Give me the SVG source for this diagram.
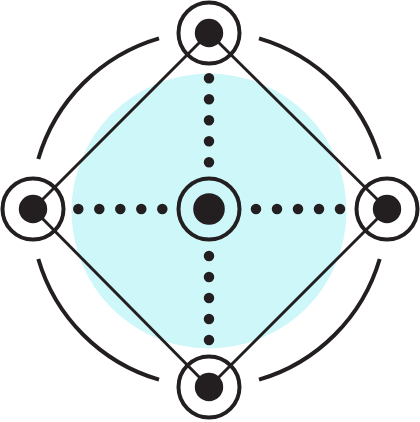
<svg xmlns="http://www.w3.org/2000/svg" width="420" height="422" viewBox="0 0 420 422">
<style>
.ring{fill:none;stroke:#231f20;stroke-width:4}
.dot{fill:#231f20}
.arc{fill:none;stroke:#231f20;stroke-width:4}
.edge{stroke:#231f20;stroke-width:3;fill:none}
.dots{stroke:#231f20;stroke-width:10.5;stroke-linecap:round;stroke-dasharray:0 21;fill:none}
</style>
<rect width="420" height="422" fill="#ffffff"/>
<circle id="backdrop" cx="209" cy="211" r="137.5" fill="#cdf7f9"/>
<g id="outer-arcs">
<path class="arc" d="M159 38.3 A178 178 0 0 0 38.3 159"/>
<path class="arc" d="M259 38.3 A178 178 0 0 1 379.7 159"/>
<path class="arc" d="M38.3 259 A178 178 0 0 0 159 379.7"/>
<path class="arc" d="M379.7 259 A178 178 0 0 1 259 379.7"/>
</g>
<g id="connectors">
<line class="edge" x1="209" y1="33" x2="33" y2="209"/>
<line class="edge" x1="209" y1="33" x2="387" y2="209"/>
<line class="edge" x1="33" y1="209" x2="209" y2="387"/>
<line class="edge" x1="387" y1="209" x2="209" y2="387"/>
<line class="dots" x1="209" y1="78.3" x2="209" y2="162.5"/>
<line class="dots" x1="209" y1="256" x2="209" y2="340.2"/>
<line class="dots" x1="78.3" y1="209" x2="162.5" y2="209"/>
<line class="dots" x1="256" y1="209" x2="340.2" y2="209"/>
</g>
<g id="node-center">
<circle class="ring" cx="209" cy="209" r="30.5"/>
<circle class="dot" cx="209" cy="209" r="15.8"/>
</g>
<g id="node-top">
<circle class="ring" cx="209" cy="33" r="30.5"/>
<circle class="dot" cx="209" cy="33" r="14.2"/>
</g>
<g id="node-left">
<circle class="ring" cx="33" cy="209" r="30.5"/>
<circle class="dot" cx="33" cy="209" r="14.2"/>
</g>
<g id="node-right">
<circle class="ring" cx="387" cy="209" r="30.5"/>
<circle class="dot" cx="387" cy="209" r="14.2"/>
</g>
<g id="node-bottom">
<circle class="ring" cx="209" cy="387" r="30.5"/>
<circle class="dot" cx="209" cy="387" r="14.2"/>
</g>
</svg>
